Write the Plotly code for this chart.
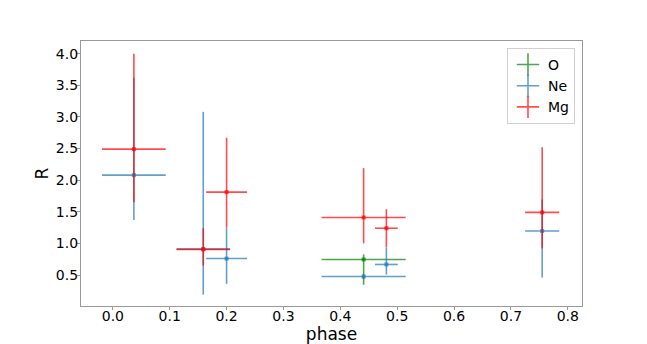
"""Ratio R vs orbital phase for O, Ne, Mg."""
import plotly.graph_objects as go

# O
o_phase = [0.441]
o_phase_err = [0.074]
o_R = [0.746]
o_R_plus = [0.08]
o_R_minus = [0.40]

# Ne
ne_phase = [0.037, 0.159, 0.200, 0.441, 0.481, 0.755]
ne_phase_err = [0.056, 0.047, 0.036, 0.074, 0.020, 0.030]
ne_R = [2.08, 0.91, 0.76, 0.476, 0.667, 1.195]
ne_R_plus = [1.54, 2.17, 0.49, 0.04, 0.27, 0.50]
ne_R_minus = [0.71, 0.72, 0.40, 0.04, 0.16, 0.735]

# Mg
mg_phase = [0.037, 0.159, 0.200, 0.441, 0.481, 0.755]
mg_phase_err = [0.056, 0.047, 0.036, 0.074, 0.020, 0.030]
mg_R = [2.49, 0.905, 1.81, 1.41, 1.24, 1.49]
mg_R_plus = [1.51, 0.335, 0.86, 0.78, 0.30, 1.03]
mg_R_minus = [0.84, 0.255, 0.56, 0.41, 0.30, 0.57]

x_ticks = [0.0, 0.1, 0.2, 0.3, 0.4, 0.5, 0.6, 0.7, 0.8]
y_ticks = [0.5, 1.0, 1.5, 2.0, 2.5, 3.0, 3.5, 4.0]

series = [
    ("O", o_phase, o_phase_err, o_R, o_R_plus, o_R_minus, "0,128,0"),
    ("Ne", ne_phase, ne_phase_err, ne_R, ne_R_plus, ne_R_minus, "31,119,180"),
    ("Mg", mg_phase, mg_phase_err, mg_R, mg_R_plus, mg_R_minus, "255,0,0"),
]

fig = go.Figure()

for name, px, pe, r, rp, rm, rgb in series:
    col = f"rgba({rgb},0.7)"
    fig.add_trace(go.Scatter(
        x=px, y=r, mode="markers", name=name, showlegend=False,
        marker=dict(symbol="square", size=4, color=col),
        error_x=dict(type="data", array=pe, color=col, thickness=1.6, width=0),
        error_y=dict(type="data", symmetric=False, array=rp, arrayminus=rm,
                     color=col, thickness=1.6, width=0),
    ))

# legend entries drawn as "+" like the errorbar handles
for name, px, pe, r, rp, rm, rgb in series:
    fig.add_trace(go.Scatter(
        x=[None], y=[None], mode="markers", name=name,
        marker=dict(symbol="cross-thin", size=16,
                    line=dict(color=f"rgba({rgb},0.7)", width=1.6)),
    ))

# the page body adds 8px around the figure, margins account for it
fig.update_layout(
    width=647, height=344,
    margin=dict(l=73, r=73, t=33, b=46),
    paper_bgcolor="white", plot_bgcolor="white",
    font=dict(family="DejaVu Sans", size=14, color="black"),
    legend=dict(x=0.986, y=0.974, xanchor="right", yanchor="top",
                bordercolor="#d0d0d0", borderwidth=1, bgcolor="white",
                font=dict(size=14), itemsizing="trace"),
)

fig.update_xaxes(
    range=[-0.056, 0.825], tickvals=x_ticks, ticktext=[f"{v:.1f}" for v in x_ticks],
    showgrid=False, zeroline=False, showline=True, mirror=True,
    linecolor="#999999", linewidth=1.2, ticks="outside", ticklen=3,
    tickcolor="#999999", automargin=False, ticklabelstandoff=-6,
    title=dict(text="phase", standoff=0),
)
fig.update_yaxes(
    range=[0.01, 4.2], tickvals=y_ticks, ticktext=[f"{v:.1f}" for v in y_ticks],
    showgrid=False, zeroline=False, showline=True, mirror=True,
    linecolor="#999999", linewidth=1.2, ticks="outside", ticklen=3,
    tickcolor="#999999", automargin=False, ticklabelstandoff=-4,
    title=dict(text="R", standoff=2),
)

fig.write_html("out.html")
